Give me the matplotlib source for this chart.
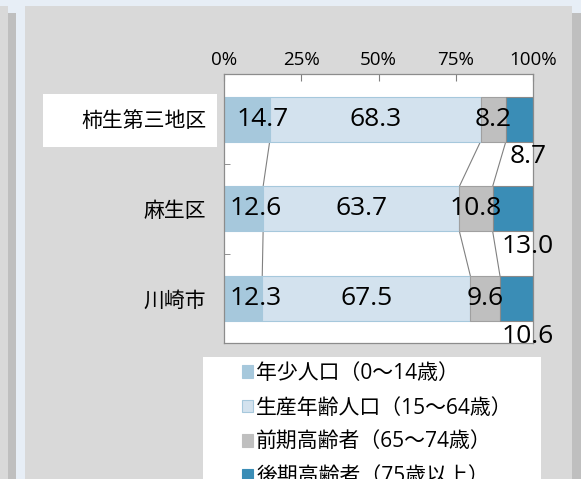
import matplotlib
matplotlib.use('Agg')
import matplotlib.pyplot as plt
from matplotlib.patches import Rectangle, Patch
import numpy as np

plt.rcParams['font.family'] = ['Open Sans', 'Noto Sans CJK JP', 'DejaVu Sans']

# ---- data ----
categories = ['柿生第三地区', '麻生区', '川崎市']
series_names = ['年少人口（0～14歳）', '生産年齢人口（15～64歳）',
                '前期高齢者（65～74歳）', '後期高齢者（75歳以上）']
young = [14.7, 12.6, 12.3]
working = [68.3, 63.7, 67.5]
early_elderly = [8.2, 10.8, 9.6]
late_elderly = [8.7, 13.0, 10.6]
xticks = [0, 25, 50, 75, 100]
xticklabels = ['0%', '25%', '50%', '75%', '100%']

# ---- style ----
colors = ['#a6c8dc', '#d3e2ee', '#bfbfbf', '#3a8db6']
edges = ['#a6c8dc', '#a6c8dc', '#a0a0a0', '#8a8a8a']
W, H = 581, 479

fig = plt.figure(figsize=(W / 100, H / 100), dpi=100, facecolor='#e7eef6')

def fig_rect(x0, y0, x1, y1, color, z=-2):
    fig.patches.append(Rectangle((x0 / W, 1 - y1 / H), (x1 - x0) / W, (y1 - y0) / H,
                                 transform=fig.transFigure, facecolor=color,
                                 edgecolor='none', zorder=z))

fig_rect(0, 6, 8, H, '#d9d9d9')
fig_rect(8, 13, 16, H, '#bfbfbf')
fig_rect(25, 6, 572, H, '#d9d9d9')
fig_rect(572, 13, W, H, '#bfbfbf')
fig_rect(43, 94, 217, 147, 'white', z=-1)
fig_rect(203, 357, 541, H, 'white', z=-1)

ax = fig.add_axes([224.3 / W, 1 - 343.3 / H, (532.7 - 224.3) / W, (343.3 - 74.3) / H])
ax.set_facecolor('white')

data = np.array([young, working, early_elderly, late_elderly], dtype=float)
pct = data / data.sum(axis=0) * 100
cum = np.cumsum(pct, axis=0)
ypos = np.arange(len(categories))
bh = 0.5

for k in range(4):
    left = cum[k] - pct[k]
    ax.barh(ypos, pct[k], left=left, height=bh, color=colors[k],
            edgecolor=edges[k], linewidth=0.8, zorder=2)

# series connector lines
for i in range(len(categories) - 1):
    for k in range(3):
        ax.plot([cum[k, i], cum[k, i + 1]], [ypos[i] + bh / 2, ypos[i + 1] - bh / 2],
                color='#808080', lw=0.8, zorder=1.5)

# data labels
fs = 19
for i in range(len(categories)):
    ax.text(cum[0, i] - 2.3, ypos[i], f'{data[0, i]:.1f}', ha='center', va='center',
            fontsize=fs, zorder=3)
    for k in (1, 2):
        ax.text(cum[k, i] - pct[k, i] / 2, ypos[i], f'{data[k, i]:.1f}', ha='center',
                va='center', fontsize=fs, zorder=3)
    ax.text(98.4, ypos[i] + 0.42, f'{data[3, i]:.1f}', ha='center', va='center',
            fontsize=fs, zorder=3)

ax.set_xlim(0, 100)
ax.set_ylim(2.5, -0.5)
ax.xaxis.tick_top()
ax.set_xticks(xticks)
ax.set_xticklabels(xticklabels)
ax.tick_params(axis='x', direction='in', length=5, color='#808080', labelsize=13.5, pad=4)
ax.set_yticks(ypos)
ax.set_yticklabels(categories)
ax.tick_params(axis='y', which='major', length=0, labelsize=15, pad=13)
ax.set_yticks([0.5, 1.5], minor=True)
ax.tick_params(axis='y', which='minor', direction='in', length=4, color='#808080')
for s in ax.spines.values():
    s.set_color('#8c8c8c')
    s.set_linewidth(0.9)

handles = [Patch(facecolor=colors[k], edgecolor=edges[k] if k == 1 else colors[k],
                 linewidth=0.8) for k in range(4)]
leg = fig.legend(handles, series_names, loc='upper left',
                 bbox_to_anchor=(241.7 / W, 1 - 363 / H), frameon=False,
                 fontsize=15, handlelength=0.55, handleheight=0.55,
                 handletextpad=0.15, borderpad=0, borderaxespad=0, labelspacing=0.65)
leg.set_zorder(5)

fig.savefig('out.png', dpi=100, facecolor=fig.get_facecolor())
